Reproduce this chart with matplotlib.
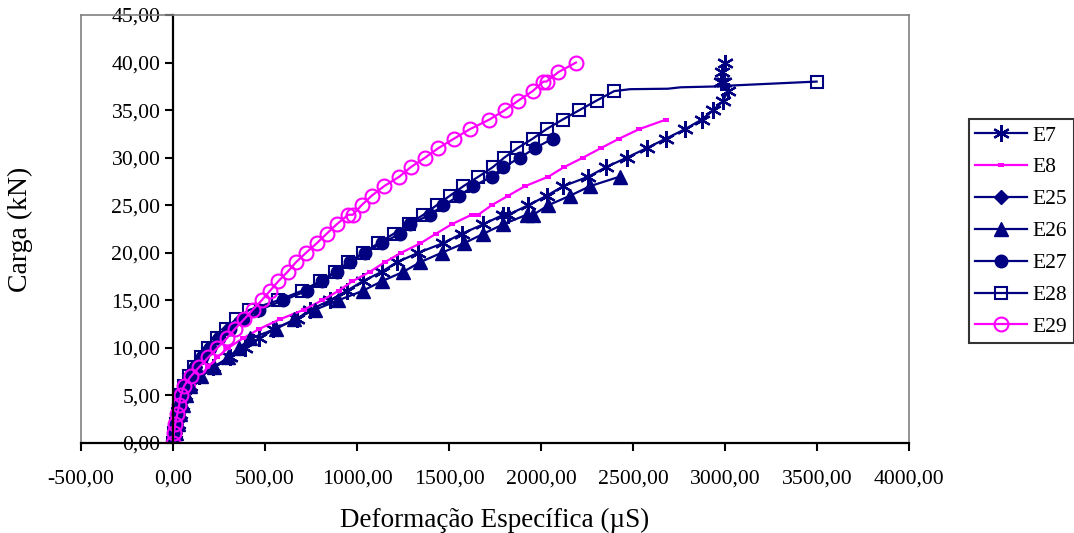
import matplotlib
matplotlib.use("Agg")
import matplotlib.pyplot as plt
from matplotlib.ticker import FuncFormatter

plt.rcParams['font.family'] = ['Liberation Serif', 'DejaVu Serif']

# ---- data (load kN vs strain microS) ----
e7_x = [0, 12, 25, 38, 50, 65, 90, 140, 219, 310, 391, 470, 545, 672, 745, 853, 944, 1031,
        1134, 1216, 1333, 1466, 1569, 1687, 1795, 1822, 1931, 2031, 2121, 2257, 2353, 2466,
        2574, 2679, 2783, 2873, 2937, 2991, 3015, 2995, 2978, 2985, 3000]
e7_y = [0, 1, 2, 3, 4, 5, 6, 7, 8, 9, 10, 11, 12, 13, 14, 15, 16, 17,
        18, 19, 20, 21, 22, 23, 24, 24, 25, 26, 27, 28, 29, 30,
        31, 32, 33, 34, 35, 36, 37, 38, 38, 39, 40]

e8_x = [0, 15, 30, 45, 60, 80, 110, 145, 190, 240, 300, 380, 470, 580, 710, 810, 900, 975,
        1070, 1150, 1240, 1345, 1429, 1515, 1623, 1659, 1732, 1822, 1913, 2040, 2125, 2228,
        2325, 2425, 2534, 2679]
e8_y = [0, 1, 2, 3, 4, 5, 6, 7, 8, 9, 10, 11, 12, 13, 14, 15, 16, 17,
        18, 19, 20, 21, 22, 23, 24, 24, 25, 26, 27, 28, 29, 30,
        31, 32, 33, 34]

e25_x = [0, 9, 17, 27, 37, 48, 62, 88, 118, 155, 195, 245, 300, 370, 460]
e25_y = [0, 1, 2, 3, 4, 5, 6, 7, 8, 9, 10, 11, 12, 13, 14]

e26_x = [0, 15, 28, 40, 52, 68, 95, 150, 225, 300, 360, 420, 560, 660, 770, 898, 1031,
         1134, 1252, 1342, 1460, 1582, 1687, 1795, 1922, 1958, 2040, 2158, 2266, 2427]
e26_y = [0, 1, 2, 3, 4, 5, 6, 7, 8, 9, 10, 11, 12, 13, 14, 15, 16,
         17, 18, 19, 20, 21, 22, 23, 24, 24, 25, 26, 27, 28]

e27_x = [0, 10, 18, 28, 38, 50, 65, 90, 120, 160, 200, 250, 310, 380, 470, 600, 727,
         808, 890, 962, 1043, 1134, 1234, 1290, 1397, 1470, 1556, 1632, 1732, 1795, 1886,
         1967, 2063]
e27_y = [0, 1, 2, 3, 4, 5, 6, 7, 8, 9, 10, 11, 12, 13, 14, 15, 16,
         17, 18, 19, 20, 21, 22, 23, 24, 25, 26, 27, 28, 29, 30,
         31, 32]

e28_x = [0, 8, 15, 25, 35, 45, 60, 85, 115, 150, 190, 240, 290, 340, 415, 572, 700,
         799, 880, 953, 1034, 1116, 1199, 1280, 1361, 1433, 1505, 1578, 1660, 1738, 1800,
         1872, 1955, 2030, 2117, 2209, 2302, 2398,
         2484, 2690, 2760, 2980, 3050, 3498]
e28_y = [0, 1, 2, 3, 4, 5, 6, 7, 8, 9, 10, 11, 12, 13, 14, 15, 16,
         17, 18, 19, 20, 21, 22, 23, 24, 25, 26, 27, 28, 29, 30,
         31, 32, 33, 34, 35, 36, 37,
         37.2, 37.25, 37.4, 37.5, 37.6, 38]
e28_marked = list(range(38)) + [43]

e29_x = [0, 5, 12, 23, 34, 42, 60, 96, 143, 192, 241, 292, 337, 386, 433, 482, 527,
         572, 623, 668, 723, 781, 835, 890, 953, 977, 1025, 1080, 1147, 1230, 1292, 1370,
         1442, 1527, 1614, 1719, 1804, 1877, 1955, 2013, 2030, 2095, 2190]
e29_y = [0, 1, 2, 3, 4, 5, 6, 7, 8, 9, 10, 11, 12, 13, 14, 15, 16,
         17, 18, 19, 20, 21, 22, 23, 24, 24, 25, 26, 27, 28, 29, 30,
         31, 32, 33, 34, 35, 36, 37, 38, 38, 39, 40]

x_ticks = [-500, 0, 500, 1000, 1500, 2000, 2500, 3000, 3500, 4000]
y_ticks = [0, 5, 10, 15, 20, 25, 30, 35, 40, 45]

NAVY = '#000080'
MAG = '#FF00FF'
GRAY = '#808080'

fig = plt.figure(figsize=(10.74, 5.33), dpi=100)
ax = fig.add_axes([81 / 1074, 1 - 443 / 533, (909 - 81) / 1074, (443 - 15) / 533])

dash = [(-1, -0.45), (1, -0.45), (1, 0.45), (-1, 0.45), (-1, -0.45)]
lw = 1.6
ax.plot(e7_x, e7_y, color=NAVY, lw=lw, marker=(6, 2, 0), ms=12, mew=1.6, label='E7')
ax.plot(e8_x, e8_y, color=MAG, lw=lw, marker=dash, ms=5, mew=0, mfc=MAG, label='E8')
ax.plot(e25_x, e25_y, color=NAVY, lw=lw, marker='D', ms=7, mfc=NAVY, mec=NAVY, label='E25')
ax.plot(e26_x, e26_y, color=NAVY, lw=lw, marker='^', ms=9.5, mfc=NAVY, mec=NAVY, label='E26')
ax.plot(e27_x, e27_y, color=NAVY, lw=lw, marker='o', ms=9, mfc=NAVY, mec=NAVY, label='E27')
ax.plot(e28_x, e28_y, color=NAVY, lw=lw, marker='s', ms=9, mfc='none', mec=NAVY, mew=1.5,
        markevery=e28_marked, label='E28')
ax.plot(e29_x, e29_y, color=MAG, lw=lw, marker='o', ms=10, mfc='none', mec=MAG, mew=1.5,
        label='E29')

ax.set_xlim(-500, 4000)
ax.set_ylim(0, 45)
ax.xaxis.set_major_locator(plt.FixedLocator(x_ticks))
ax.yaxis.set_major_locator(plt.FixedLocator(y_ticks))
fmt = FuncFormatter(lambda v, p: f"{v:.2f}".replace('.', ','))
ax.xaxis.set_major_formatter(fmt)
ax.yaxis.set_major_formatter(fmt)

for s in ['top', 'right']:
    ax.spines[s].set_color(GRAY)
    ax.spines[s].set_linewidth(1.2)
ax.spines['left'].set_position(('data', 0))
ax.spines['left'].set_color('black')
ax.spines['left'].set_linewidth(1.6)
ax.spines['bottom'].set_color('black')
ax.spines['bottom'].set_linewidth(1.6)
ax.plot([0, 0], [0, 1], transform=ax.transAxes, color=GRAY, lw=1.2, clip_on=False, zorder=0.5)

ax.tick_params(axis='both', direction='out', length=6, width=1.5, labelsize=15.7, colors='black')
ax.tick_params(axis='x', pad=13)
ax.tick_params(axis='y', pad=3)

ax.set_xlabel('Deformação Específica (µS)', fontsize=19.5, labelpad=14)
ax.set_ylabel('Carga (kN)', fontsize=20)
ax.yaxis.set_label_coords((33 - 81) / (909 - 81), 0.5)

leg = fig.legend(loc='upper left', bbox_to_anchor=(969 / 1074, 1 - 119 / 533),
                 frameon=True, fancybox=False, fontsize=15.5, handlelength=2.4,
                 labelspacing=0.55, borderaxespad=0, borderpad=0.3, handletextpad=0.25)
leg.get_frame().set_edgecolor('black')
leg.get_frame().set_linewidth(1.5)

fig.savefig('out.png', dpi=100)
